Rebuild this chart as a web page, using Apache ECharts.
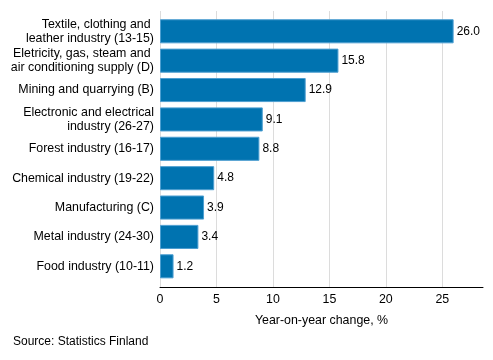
<!DOCTYPE html>
<html><head><meta charset="utf-8">
<script src="https://cdn.jsdelivr.net/npm/echarts@6/dist/echarts.min.js"></script>
<style>html,body{margin:0;padding:0;background:#fff}#c{width:493px;height:360px}</style>
</head><body><div id="c"></div>
<script>
const categories = [
  "Textile, clothing and \nleather industry (13-15)",
  "Eletricity, gas, steam and \nair conditioning supply (D)",
  "Mining and quarrying (B)",
  "Electronic and electrical\nindustry (26-27)",
  "Forest industry (16-17)",
  "Chemical industry (19-22)",
  "Manufacturing (C)",
  "Metal industry (24-30)",
  "Food industry (10-11)"
];
const values = [26.0, 15.8, 12.9, 9.1, 8.8, 4.8, 3.9, 3.4, 1.2];
const axisTitle = "Year-on-year change, %";
const sourceText = "Source: Statistics Finland";

const chart = echarts.init(document.getElementById('c'), null, {renderer: 'canvas'});
const font = "'Liberation Sans', Arial, sans-serif";
const xMin = 0, xMax = 28.6, xStep = 5;
chart.setOption({
  animation: false,
  textStyle: {fontFamily: font},
  grid: [
    {left: 160, right: 10, top: 11, bottom: 73, containLabel: false},
    {left: 160, right: 10, top: 16.6, bottom: 79, containLabel: false}
  ],
  xAxis: [{
    gridIndex: 0, type: 'value', min: xMin, max: xMax, interval: xStep,
    name: axisTitle, nameLocation: 'middle', nameGap: 28,
    nameTextStyle: {fontSize: 12.4, color: '#000', fontFamily: font},
    axisLine: {show: true, lineStyle: {color: '#000', width: 1}},
    axisTick: {show: false},
    axisLabel: {fontSize: 12.4, color: '#000', margin: 7, showMaxLabel: false, fontFamily: font},
    splitLine: {show: true, showMaxLine: false, lineStyle: {color: '#dcdcdc', width: 1}}
  }, {
    gridIndex: 1, type: 'value', min: xMin, max: xMax, interval: xStep, show: false,
    splitLine: {show: false}
  }],
  yAxis: [{
    gridIndex: 0, type: 'category', data: categories, inverse: true, show: false
  }, {
    gridIndex: 1, type: 'category', data: categories, inverse: true,
    axisLine: {show: false}, axisTick: {show: false},
    axisLabel: {fontSize: 12.4, color: '#000', margin: 6, lineHeight: 14, align: 'right', fontFamily: font}
  }],
  series: [{
    type: 'bar', xAxisIndex: 1, yAxisIndex: 1, data: values, barCategoryGap: '18%',
    itemStyle: {color: '#0073b0', borderColor: '#4d9fd1', borderWidth: 1},
    label: {show: true, position: 'right', distance: 3, fontSize: 12, color: '#000',
      fontFamily: font, formatter: p => p.value.toFixed(1)}
  }],
  graphic: [{
    type: 'text', left: 13, top: 336,
    style: {text: sourceText, fontSize: 12, fill: '#000', fontFamily: font}
  }]
});
</script></body></html>
